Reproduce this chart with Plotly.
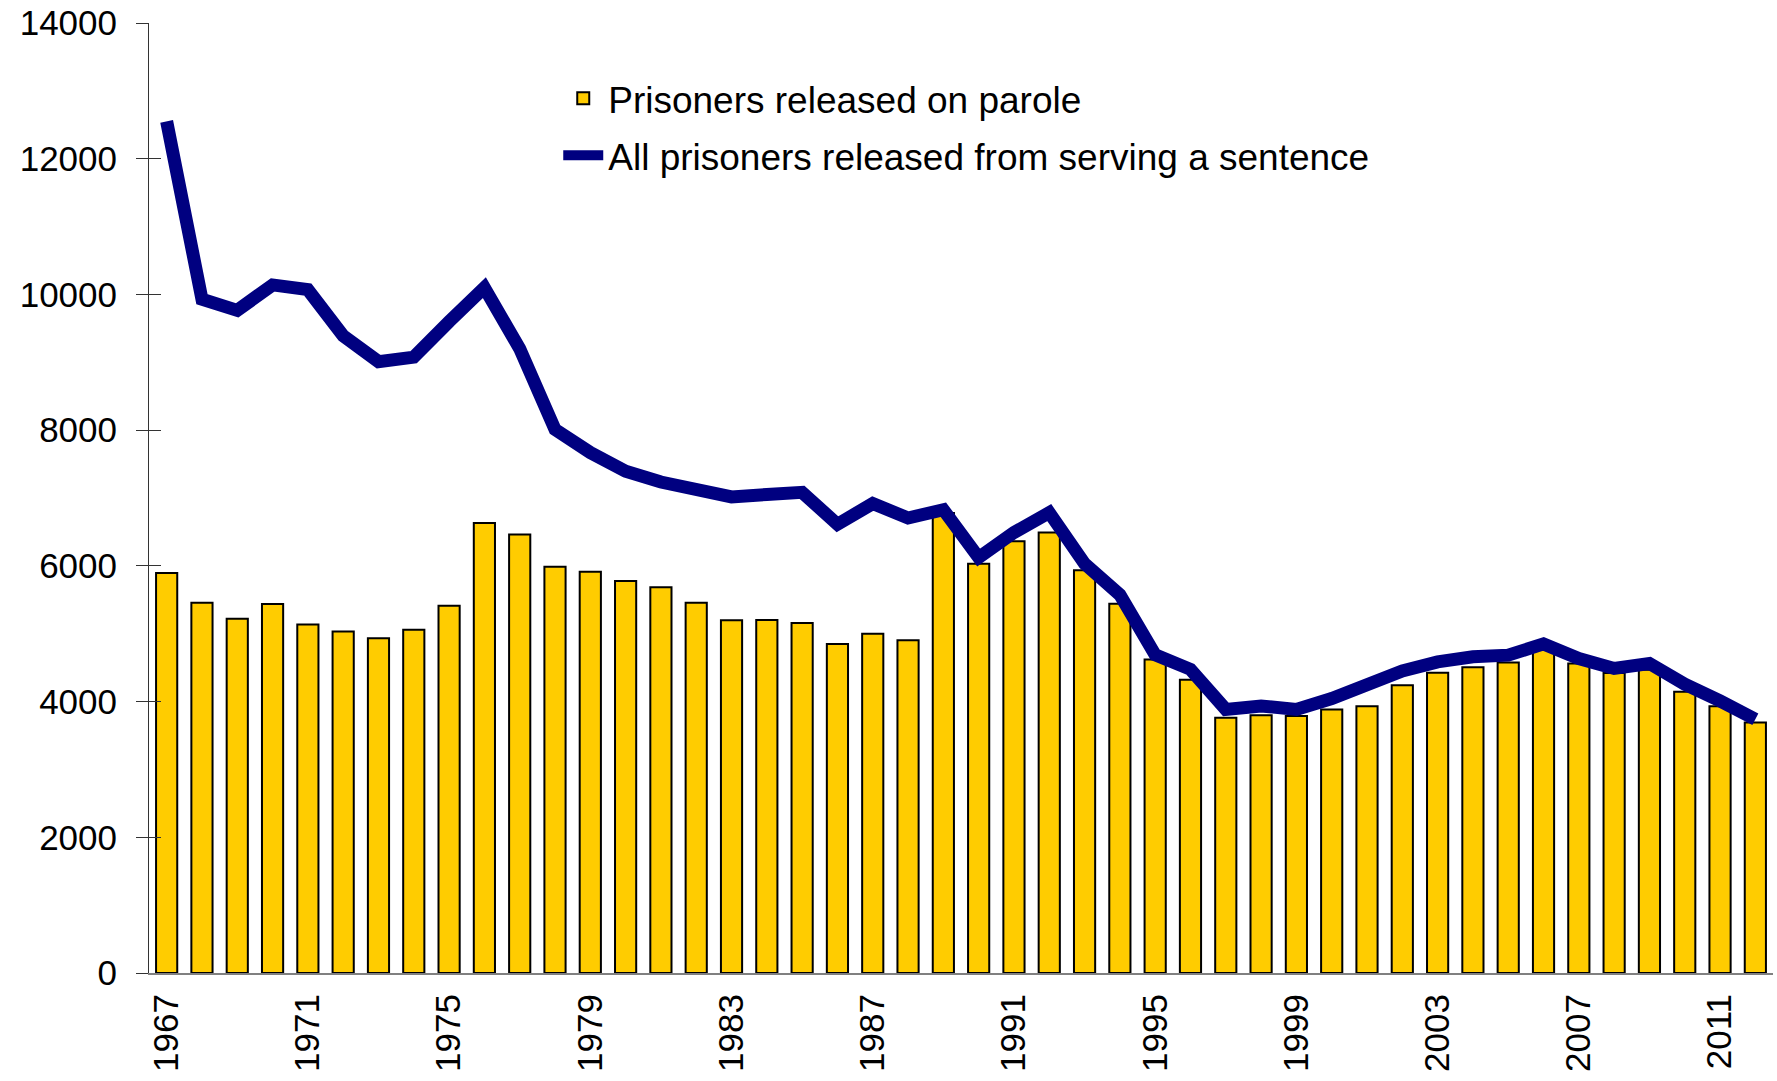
import plotly.graph_objects as go

# Release year and counts of prisoners released
years = list(range(1967, 2013))

parole_releases = [
    5895, 5456, 5219, 5439, 5135, 5033, 4932, 5058, 5413, 6632,
    6463, 5988, 5913, 5778, 5685, 5456, 5198, 5201, 5158, 4847,
    4999, 4902, 6780, 6032, 6363, 6491, 5935, 5440, 4620, 4321,
    3763, 3800, 3787, 3883, 3932, 4242, 4426, 4507, 4576, 4780,
    4560, 4420, 4470, 4143, 3930, 3692,
]

all_releases = [
    12550, 9930, 9765, 10140, 10070, 9390, 9010, 9075, 9600, 10100,
    9200, 8010, 7670, 7395, 7235, 7110, 7015, 7052, 7083, 6613,
    6918, 6705, 6827, 6123, 6491, 6784, 6032, 5574, 4688, 4475,
    3885, 3935, 3885, 4045, 4252, 4453, 4585, 4659, 4684, 4850,
    4635, 4488, 4561, 4256, 4010, 3740,
]

x_tick_years = list(range(1967, 2013, 4))
y_ticks = list(range(0, 14001, 2000))
y_tick_text = [str(v) for v in y_ticks]

FONT = "Liberation Sans, Arial, sans-serif"

fig = go.Figure()

fig.add_trace(go.Bar(
    x=years,
    y=parole_releases,
    name="Prisoners released on parole",
    marker=dict(color="#FFCC00", line=dict(color="#000000", width=2)),
    legendgroup="a",
    hoverinfo="skip",
))

fig.add_trace(go.Scatter(
    x=years,
    y=all_releases,
    mode="lines",
    name="All prisoners released from serving a sentence",
    line=dict(color="#000080", width=13),
    legendgroup="b",
    hoverinfo="skip",
))

# Second y axis over the first, only to give ticks that cross the axis line
fig.add_trace(go.Scatter(
    x=[years[0]], y=[0], yaxis="y2", mode="markers",
    marker=dict(opacity=0), showlegend=False, hoverinfo="skip",
))

fig.update_layout(
    width=1777,
    height=1081,
    margin=dict(l=149, r=4, t=23, b=108),
    paper_bgcolor="#ffffff",
    plot_bgcolor="#ffffff",
    font=dict(family=FONT, size=36, color="#000000"),
    bargap=0.4,
    showlegend=True,
    legend=dict(
        x=0.252, y=0.953, xanchor="left", yanchor="top",
        bgcolor="rgba(0,0,0,0)",
        font=dict(family=FONT, size=37, color="#000000"),
        traceorder="grouped",
        tracegroupgap=6,
        itemwidth=40,
    ),
    xaxis=dict(
        range=[1966.5, 2012.5],
        tickmode="array",
        tickvals=x_tick_years,
        ticktext=[str(y) for y in x_tick_years],
        tickangle=-90,
        ticks="",
        ticklabelstandoff=5,
        showgrid=False,
        zeroline=False,
        showline=True,
        linecolor="#808080",
        linewidth=2,
        automargin=False,
        tickfont=dict(family=FONT, size=35, color="#000000"),
    ),
    yaxis=dict(
        range=[0, 14000],
        tickmode="array",
        tickvals=y_ticks,
        ticktext=y_tick_text,
        ticks="outside",
        ticklen=12,
        tickwidth=1,
        tickcolor="#333333",
        ticklabelstandoff=12,
        showgrid=False,
        zeroline=False,
        showline=True,
        linecolor="#333333",
        linewidth=1,
        automargin=False,
        tickfont=dict(family=FONT, size=35, color="#000000"),
    ),
    yaxis2=dict(
        range=[0, 14000],
        overlaying="y",
        side="left",
        anchor="x",
        tickmode="array",
        tickvals=y_ticks,
        ticks="inside",
        ticklen=12,
        tickwidth=1,
        tickcolor="#333333",
        showticklabels=False,
        showgrid=False,
        zeroline=False,
        showline=False,
        automargin=False,
    ),
)

fig.write_html("out.html")
